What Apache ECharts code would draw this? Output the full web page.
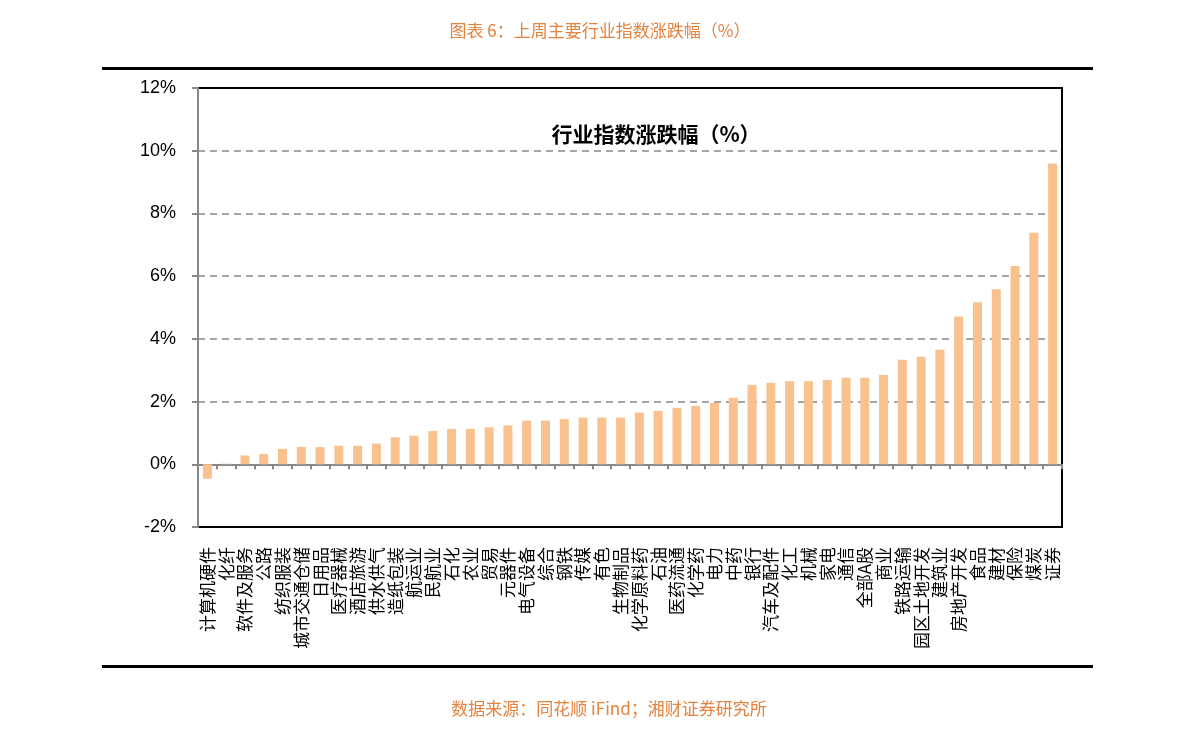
<!DOCTYPE html>
<html>
<head>
<meta charset="utf-8">
<script src="https://cdn.jsdelivr.net/npm/echarts@6/dist/echarts.min.js"></script>
<style>
html,body{margin:0;padding:0;background:#fff;}
#chart{width:1191px;height:738px;}
</style>
</head>
<body>
<div id="chart"></div>
<script>
var categories = ['计算机硬件','化纤','软件及服务','公路','纺织服装','城市交通仓储','日用品','医疗器械','酒店旅游','供水供气','造纸包装','航运业','民航业','石化','农业','贸易','元器件','电气设备','综合','钢铁','传媒','有色','生物制品','化学原料药','石油','医药流通','化学药','电力','中药','银行','汽车及配件','化工','机械','家电','通信','全部A股','商业','铁路运输','园区土地开发','建筑业','房地产开发','食品','建材','保险','煤炭','证券'];
var values = [-0.46,0.02,0.28,0.33,0.49,0.55,0.55,0.59,0.59,0.66,0.86,0.91,1.06,1.13,1.13,1.18,1.24,1.39,1.39,1.44,1.49,1.49,1.49,1.65,1.70,1.80,1.86,1.96,2.12,2.53,2.60,2.65,2.65,2.69,2.76,2.76,2.85,3.33,3.43,3.65,4.71,5.17,5.58,6.32,7.38,9.59];
var yTicks = {min:-2, max:12, interval:2};
var pageTitle = '图表 6：上周主要行业指数涨跌幅（%）';
var chartTitle = '行业指数涨跌幅（%）';
var sourceText = '数据来源：同花顺 iFind；湘财证券研究所';

var chart = echarts.init(document.getElementById('chart'));
var orange = '#E4823E';
chart.setOption({
  backgroundColor:'#fff',
  animation:false,
  title:[
    {text:pageTitle,left:595,top:17,textAlign:'center',textStyle:{color:orange,fontSize:17,fontWeight:'normal',fontFamily:'Noto Sans CJK SC'}},
    {text:chartTitle,left:651,top:119,textAlign:'center',textStyle:{color:'#000',fontSize:21,fontWeight:'bold',fontFamily:'Noto Sans CJK SC'}},
    {text:sourceText,left:604,top:695,textAlign:'center',textStyle:{color:orange,fontSize:17,fontWeight:'normal',fontFamily:'Noto Sans CJK SC'}}
  ],
  graphic:[
    {type:'rect',shape:{x:102,y:67,width:991,height:3},style:{fill:'#000'}},
    {type:'rect',shape:{x:102,y:665,width:991,height:3},style:{fill:'#000'}}
  ],
  grid:{left:198,right:129,top:88,bottom:211,show:true,borderColor:'#000',borderWidth:2,backgroundColor:'transparent'},
  xAxis:[
    {type:'category',data:categories,position:'bottom',axisLine:{show:false,onZero:false},axisTick:{show:false},
     axisLabel:{rotate:90,interval:0,margin:20,fontSize:17,color:'#000',fontFamily:'Noto Sans CJK SC'}},
    {type:'category',data:categories,position:'bottom',axisLine:{show:true,onZero:true,lineStyle:{color:'#888',width:2}},
     axisTick:{show:true,interval:0,inside:false,length:5,lineStyle:{color:'#888',width:2}},axisLabel:{show:false}}
  ],
  yAxis:{type:'value',min:yTicks.min,max:yTicks.max,interval:yTicks.interval,
    axisLine:{show:true,lineStyle:{color:'#888',width:2}},
    axisTick:{show:true,length:6,lineStyle:{color:'#888',width:2}},
    axisLabel:{formatter:'{value}%',fontSize:18,color:'#000',margin:22,fontFamily:'Liberation Sans'},
    splitLine:{show:true,showMinLine:false,showMaxLine:false,lineStyle:{color:'#888',type:[7,5],width:1.5}}},
  series:[{type:'bar',xAxisIndex:0,data:values,barWidth:9,itemStyle:{color:'#F8C18E'}}]
});
</script>
</body>
</html>
